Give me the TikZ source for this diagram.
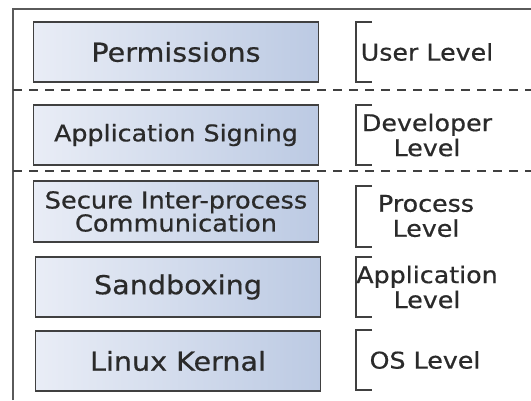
\documentclass[tikz,border=0pt]{standalone}
\usepackage{fontspec}
\setmainfont{DejaVu Sans}[FakeStretch=1.1, FakeBold=0.6]
\usepackage{tikz}
\usetikzlibrary{calc}

\definecolor{boxleft}{HTML}{E9EDF6}
\definecolor{boxright}{HTML}{BCCAE3}
\definecolor{edgegray}{HTML}{404040}
\definecolor{framegray}{HTML}{5A5A5A}
\definecolor{txt}{HTML}{2A2A2A}

\tikzset{
	layer/.style={draw=edgegray, line width=1.7pt, left color=boxleft, right color=boxright,
		minimum width=285pt, minimum height=60pt, inner sep=0pt, align=center, text=txt},
	lvl/.style={align=center, text=txt, inner sep=0pt, font=\fontsize{23}{25}\selectfont},
	brack/.style={draw=edgegray, line width=1.3pt},
	sep/.style={draw=edgegray, line width=1.8pt, dash pattern=on 9pt off 7pt}
}

\begin{document}
\begin{tikzpicture}[x=1pt, y=-1pt]
	\useasboundingbox (0,0) rectangle (531,400);
	\draw[framegray, line width=2pt] (13,400) -- (13,9) -- (531,9);
	\node[layer, font=\fontsize{26}{28}\selectfont] (perm) at (176,52) {Permissions};
	\node[layer, font=\fontsize{23}{25}\selectfont] (sign) at (176,135) {Application Signing};
	\node[layer, minimum height=61pt, font=\fontsize{23.3}{23}\selectfont] (ipc) at (176,211.5) {Secure Inter-process\\Communication};
	\node[layer, font=\fontsize{26}{28}\selectfont] (sandbox) at (178,287) {Sandboxing};
	\node[layer, font=\fontsize{26}{28}\selectfont] (kernel) at (178,361) {Linux Kernal};
	\draw[sep] (13,90) -- (531,90);
	\draw[sep] (13,171) -- (531,171);
	\draw[brack] (372,22) -- (356,22) -- (356,82) -- (372,82);
	\draw[brack] (372,105) -- (356,105) -- (356,165) -- (372,165);
	\draw[brack] (372,186) -- (356,186) -- (356,247) -- (372,247);
	\draw[brack] (372,257) -- (356,257) -- (356,317) -- (372,317);
	\draw[brack] (372,330) -- (356,330) -- (356,390) -- (372,390);
	\node[lvl] (user) at (427,52) {User Level};
	\node[lvl] (dev) at (427,135) {Developer\\Level};
	\node[lvl] (proc) at (426,216) {Process\\Level};
	\node[lvl] (app) at (427,287) {Application\\Level};
	\node[lvl] (os) at (425,360) {OS Level};
\end{tikzpicture}
\end{document}
